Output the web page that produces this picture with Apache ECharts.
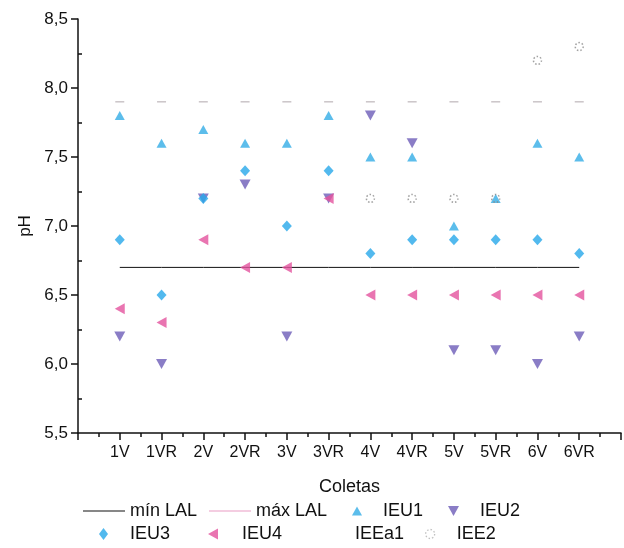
<!DOCTYPE html>
<html><head><meta charset="utf-8">
<script src="https://cdn.jsdelivr.net/npm/echarts@6/dist/echarts.min.js"></script>
<style>html,body{margin:0;padding:0;background:#fff}#c{width:624px;height:548px}</style>
</head><body><div id="c"></div>
<script>
var categories = ['1V','1VR','2V','2VR','3V','3VR','4V','4VR','5V','5VR','6V','6VR'];
var minLAL = [6.7,6.7,6.7,6.7,6.7,6.7,6.7,6.7,6.7,6.7,6.7,6.7];
var maxLAL = [7.9,7.9,7.9,7.9,7.9,7.9,7.9,7.9,7.9,7.9,7.9,7.9];
var IEU1 = [7.8,7.6,7.7,7.6,7.6,7.8,7.5,7.5,7.0,7.2,7.6,7.5];
var IEU2 = [6.2,6.0,7.2,7.3,6.2,7.2,7.8,7.6,6.1,6.1,6.0,6.2];
var IEU3 = [6.9,6.5,7.2,7.4,7.0,7.4,6.8,6.9,6.9,6.9,6.9,6.8];
var IEU4 = [6.4,6.3,6.9,6.7,6.7,7.2,6.5,6.5,6.5,6.5,6.5,6.5];
var IEEa1 = [null,null,null,null,null,null,null,null,null,null,null,null];
var IEE2 = [null,null,null,null,null,null,7.2,7.2,7.2,7.2,8.2,8.3];
var yTicks = [5.5,6.0,6.5,7.0,7.5,8.0,8.5];

function pts(arr){ var o=[]; arr.forEach(function(v,i){ if(v!==null) o.push([i+1,v]); }); return o; }
var FONT = 'Liberation Sans, Arial, sans-serif';
var DOWN = 'path://M0,0L10,0L5,9Z';
var LEFT = 'path://M9,0L9,10L0,5Z';
var UP = 'path://M5,0L10,9L0,9Z';
var chart = echarts.init(document.getElementById('c'));
function leg(d, left, top, w, h, pad){
  return {data:[d], left:left, top:top, itemWidth:w, itemHeight:h, itemGap:0, padding:0,
          textStyle:{fontFamily:FONT, fontSize:18, color:'#111', padding:[0,0,0,pad]}, selectedMode:false};
}
chart.setOption({
  animation:false,
  backgroundColor:'#fff',
  grid:{left:78, right:2, top:19, bottom:115},
  xAxis:{type:'value', min:0, max:13, interval:1,
    name:'Coletas', nameLocation:'middle', nameGap:45,
    nameTextStyle:{fontFamily:FONT, fontSize:18, color:'#111'},
    axisLine:{lineStyle:{color:'#111', width:1.5}},
    axisTick:{show:true, length:7, lineStyle:{color:'#111', width:1.5}},
    minorTick:{show:true, splitNumber:2, length:4, lineStyle:{color:'#111', width:1.5}},
    splitLine:{show:false},
    axisLabel:{fontFamily:FONT, fontSize:16, color:'#111', margin:12,
      formatter:function(v){ return (v>=1 && v<=categories.length) ? categories[v-1] : ''; }}
  },
  yAxis:{type:'value', min:yTicks[0], max:yTicks[yTicks.length-1], interval:0.5,
    name:'pH', nameLocation:'middle', nameGap:44, nameRotate:90,
    nameTextStyle:{fontFamily:FONT, fontSize:17, color:'#111'},
    axisLine:{show:true, lineStyle:{color:'#111', width:1.5}},
    axisTick:{show:true, length:7, lineStyle:{color:'#111', width:1.5}},
    minorTick:{show:true, splitNumber:2, length:-4, lineStyle:{color:'#111', width:1.5}},
    splitLine:{show:false},
    axisLabel:{fontFamily:FONT, fontSize:17, color:'#111', margin:10,
      formatter:function(v){ return v.toFixed(1).replace('.',','); }}
  },
  legend:[
    leg({name:'mín LAL', icon:'rect', itemStyle:{color:'#111'}}, 83, 502, 42, 1.2, 0),
    leg({name:'máx LAL', icon:'rect', itemStyle:{color:'#ea9cc4'}}, 209, 502, 42, 1.2, 0),
    leg({name:'IEU1', icon:UP}, 352, 502, 10, 9, 16),
    leg({name:'IEU2', icon:DOWN}, 448, 502, 11, 10, 16),
    leg({name:'IEU3', icon:'diamond'}, 99, 525, 9, 12, 17),
    leg({name:'IEU4', icon:LEFT}, 208, 525, 10, 12, 19),
    leg({name:'IEEa1', icon:'none'}, 340, 525, 10, 10, 0),
    leg({name:'IEE2', icon:'circle', itemStyle:{color:'rgba(0,0,0,0)', borderColor:'#b0b0b0', borderType:[1.5,2], borderWidth:1.3}}, 425, 525, 9, 9, 17)
  ],
  series:[
    {name:'mín LAL', type:'line', data:pts(minLAL), symbol:'none', z:1,
     lineStyle:{color:'#111', width:1}, itemStyle:{color:'#111'}},
    {name:'máx LAL', type:'line', data:pts(maxLAL), symbol:'rect', symbolSize:[9,1.5], showSymbol:true, z:1,
     lineStyle:{opacity:0, width:0}, itemStyle:{color:'#cbc5c8'}},
    {name:'IEU1', type:'scatter', data:pts(IEU1), symbol:UP, symbolSize:[10,9], z:3,
     itemStyle:{color:'#33ace6'}},
    {name:'IEU2', type:'scatter', data:pts(IEU2), symbol:DOWN, symbolSize:[11,10], z:2,
     itemStyle:{color:'#6d5db8'}},
    {name:'IEU3', type:'scatter', data:pts(IEU3), symbol:'diamond', symbolSize:[10,11], z:4,
     itemStyle:{color:'#27a7ea'}},
    {name:'IEU4', type:'scatter', data:pts(IEU4), symbol:LEFT, symbolSize:[10,11], z:5,
     itemStyle:{color:'#e4539e'}},
    {name:'IEEa1', type:'scatter', data:pts(IEEa1), symbol:'none', symbolSize:0,
     itemStyle:{color:'rgba(255,255,255,0)'}},
    {name:'IEE2', type:'scatter', data:pts(IEE2), symbol:'circle', symbolSize:8, z:6,
     itemStyle:{color:'rgba(0,0,0,0)', borderColor:'#8a8a8a', borderType:[1.5,2], borderWidth:1.5}}
  ]
});
</script></body></html>
